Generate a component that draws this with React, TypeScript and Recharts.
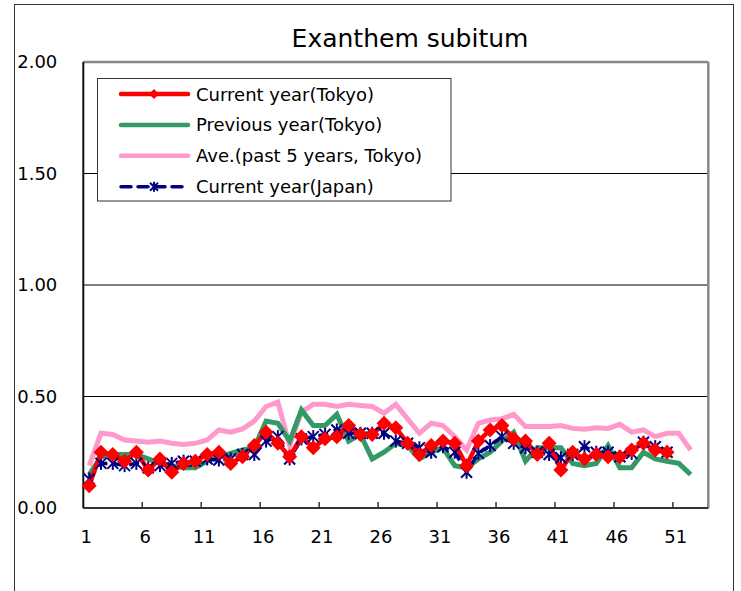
import React from "react";
import {
  LineChart,
  Line,
  XAxis,
  YAxis,
  CartesianGrid,
  ReferenceLine,
} from "recharts";

// weekly values, week 1..52
const weeks = Array.from({ length: 52 }, (_, i) => i + 1);

const currentTokyo = [
  0.1, 0.25, 0.24, 0.21, 0.25, 0.17, 0.22, 0.16, 0.2, 0.21,
  0.24, 0.25, 0.2, 0.23, 0.28, 0.34, 0.29, 0.23, 0.32, 0.27,
  0.31, 0.32, 0.37, 0.33, 0.33, 0.38, 0.36, 0.29, 0.24, 0.28,
  0.3, 0.29, 0.19, 0.3, 0.35, 0.37, 0.31, 0.3, 0.24, 0.29,
  0.17, 0.25, 0.22, 0.24, 0.23, 0.23, 0.26, 0.29, 0.26, 0.25,
];

const previousTokyo = [
  0.15, 0.23, 0.24, 0.24, 0.24, 0.22, 0.2, 0.19, 0.18, 0.18,
  0.21, 0.23, 0.245, 0.26, 0.27, 0.39, 0.38, 0.3, 0.44, 0.37,
  0.37, 0.42, 0.3, 0.33, 0.22, 0.25, 0.29, 0.28, 0.22, 0.25,
  0.27, 0.19, 0.18, 0.22, 0.25, 0.3, 0.34, 0.21, 0.27, 0.27,
  0.27, 0.2, 0.19, 0.2, 0.28, 0.18, 0.18, 0.25, 0.22, 0.21,
  0.2, 0.15,
];

const averageTokyo = [
  0.19, 0.335, 0.33, 0.305, 0.3, 0.295, 0.3, 0.29, 0.285, 0.29,
  0.305, 0.35, 0.34, 0.355, 0.39, 0.455, 0.475, 0.28, 0.43, 0.465,
  0.465, 0.455, 0.465, 0.46, 0.455, 0.425, 0.465, 0.4, 0.335, 0.38,
  0.37, 0.32, 0.26, 0.38, 0.395, 0.4, 0.42, 0.365, 0.365, 0.365,
  0.37, 0.357, 0.353, 0.36, 0.357, 0.375, 0.34, 0.35, 0.32, 0.335,
  0.335, 0.26,
];

const currentJapan = [
  0.13, 0.2, 0.2, 0.19, 0.2, 0.18, 0.19, 0.2, 0.21, 0.21,
  0.22, 0.215, 0.22, 0.24, 0.24, 0.3, 0.32, 0.22, 0.31, 0.32,
  0.33, 0.35, 0.335, 0.335, 0.335, 0.335, 0.3, 0.29, 0.27, 0.25,
  0.275, 0.25, 0.16, 0.245, 0.28, 0.32, 0.29, 0.27, 0.25, 0.24,
  0.225, 0.24, 0.275, 0.25, 0.25, 0.23, 0.245, 0.295, 0.275, 0.25,
];

const xTicks = [1, 6, 11, 16, 21, 26, 31, 36, 41, 46, 51];
const yTicks = [0, 0.5, 1, 1.5, 2];

const legendItems = [
  { label: "Current year(Tokyo)", color: "#ff0000", kind: "diamond" },
  { label: "Previous year(Tokyo)", color: "#339966", kind: "plain" },
  { label: "Ave.(past 5 years, Tokyo)", color: "#ff99cc", kind: "plain" },
  { label: "Current year(Japan)", color: "#000080", kind: "star" },
];

const FONT = "'DejaVu Sans', sans-serif";
const HALF_CAT = 625 / 53 / 2;

const rows = weeks.map((w, i) => ({
  week: w,
  cur: currentTokyo[i] ?? null,
  prev: previousTokyo[i] ?? null,
  ave: averageTokyo[i] ?? null,
  jp: currentJapan[i] ?? null,
}));

const Diamond = ({ cx, cy, r, color }: any) => (
  <polygon
    points={`${cx},${cy - r} ${cx + r},${cy} ${cx},${cy + r} ${cx - r},${cy}`}
    fill={color}
  />
);

const Star = ({ cx, cy, r, color }: any) => (
  <g stroke={color} strokeWidth={2}>
    <line x1={cx - r} y1={cy - r} x2={cx + r} y2={cy + r} />
    <line x1={cx - r} y1={cy + r} x2={cx + r} y2={cy - r} />
    <line x1={cx} y1={cy - r - 1} x2={cx} y2={cy + r + 1} />
  </g>
);

const redDot = (p: any) =>
  p.cx == null || p.cy == null || p.value == null ? (
    <g key={`r-${p.index}`} />
  ) : (
    <Diamond key={`r-${p.index}`} cx={p.cx} cy={p.cy} r={7.5} color="#ff0000" />
  );

const starDot = (p: any) =>
  p.cx == null || p.cy == null || p.value == null ? (
    <g key={`s-${p.index}`} />
  ) : (
    <Star key={`s-${p.index}`} cx={p.cx} cy={p.cy} r={5.5} color="#000080" />
  );

const WeekTick = (props: any) => {
  const { x, y, payload } = props;
  const bx = x - HALF_CAT;
  return (
    <g>
      {payload.value !== 1 && (
        <line x1={bx} x2={bx} y1={y} y2={y - 6} stroke="#333" strokeWidth={1.5} />
      )}
      <text
        x={x - 3}
        y={y + 28}
        textAnchor="middle"
        dominantBaseline="central"
        fontSize={18}
        fontFamily={FONT}
        fill="#000"
      >
        {payload.value}
      </text>
    </g>
  );
};

function Overlay() {
  return (
    <svg
      width={741}
      height={591}
      style={{ position: "absolute", left: 0, top: 0, pointerEvents: "none" }}
    >
      <text
        x={410}
        y={38}
        textAnchor="middle"
        dominantBaseline="central"
        fontSize={25}
        fontFamily={FONT}
        fill="#000"
      >
        Exanthem subitum
      </text>
      <rect x={97.5} y={78.5} width={353.5} height={122.5} fill="#fff" stroke="#333" />
      {legendItems.map((it, i) => {
        const cy = 94 + i * 30.9;
        return (
          <g key={it.label}>
            <line
              x1={121}
              x2={188}
              y1={cy}
              y2={cy}
              stroke={it.color}
              strokeWidth={it.kind === "star" ? 3.5 : 4.5}
              strokeLinecap="round"
              strokeDasharray={it.kind === "star" ? "10 7" : undefined}
            />
            {it.kind === "diamond" && <Diamond cx={154} cy={cy} r={5} color={it.color} />}
            {it.kind === "star" && <Star cx={154} cy={cy} r={4} color={it.color} />}
            <text
              x={196}
              y={cy}
              dominantBaseline="central"
              fontSize={18}
              fontFamily={FONT}
              fill="#000"
            >
              {it.label}
            </text>
          </g>
        );
      })}
    </svg>
  );
}

export default function App() {
  return (
    <div
      style={{
        position: "absolute",
        left: 0,
        top: 0,
        width: 741,
        height: 591,
        background: "#fff",
        overflow: "hidden",
      }}
    >
      <div
        style={{
          position: "absolute",
          left: 14,
          top: 4,
          width: 718,
          height: 620,
          border: "1px solid #333",
        }}
      />
      <div style={{ position: "absolute", left: 0, top: 0 }}>
        <LineChart
          width={741}
          height={591}
          data={rows}
          margin={{ top: 62, right: 32.7, bottom: 53, left: 23.3 }}
        >
          <CartesianGrid vertical={false} stroke="#000" strokeWidth={1} />
          <XAxis
            dataKey="week"
            type="number"
            domain={[0.5, 53.5]}
            ticks={xTicks}
            interval={0}
            tick={<WeekTick />}
            tickLine={false}
            tickSize={0}
            tickMargin={0}
            axisLine={{ stroke: "#333", strokeWidth: 2 }}
          />
          <YAxis
            domain={[0, 2]}
            ticks={yTicks}
            interval={0}
            tickFormatter={(v: number) => v.toFixed(2)}
            tickLine={false}
            tickSize={0}
            tickMargin={26}
            axisLine={{ stroke: "#111", strokeWidth: 2 }}
            tick={{ fontSize: 18, fontFamily: FONT, fill: "#000" }}
          />
          <ReferenceLine y={2} stroke="#888" strokeWidth={2.5} />
          <ReferenceLine x={53.5} stroke="#888" strokeWidth={2.5} />
          <Line
            dataKey="ave"
            stroke="#ff99cc"
            strokeWidth={5}
            dot={false}
            isAnimationActive={false}
          />
          <Line
            dataKey="prev"
            stroke="#339966"
            strokeWidth={5}
            dot={false}
            isAnimationActive={false}
          />
          <Line
            dataKey="jp"
            stroke="#000080"
            strokeWidth={3.5}
            strokeDasharray="10 6"
            dot={starDot}
            isAnimationActive={false}
          />
          <Line
            dataKey="cur"
            stroke="#ff0000"
            strokeWidth={4.5}
            dot={redDot}
            isAnimationActive={false}
          />
        </LineChart>
      </div>
      <Overlay />
    </div>
  );
}
